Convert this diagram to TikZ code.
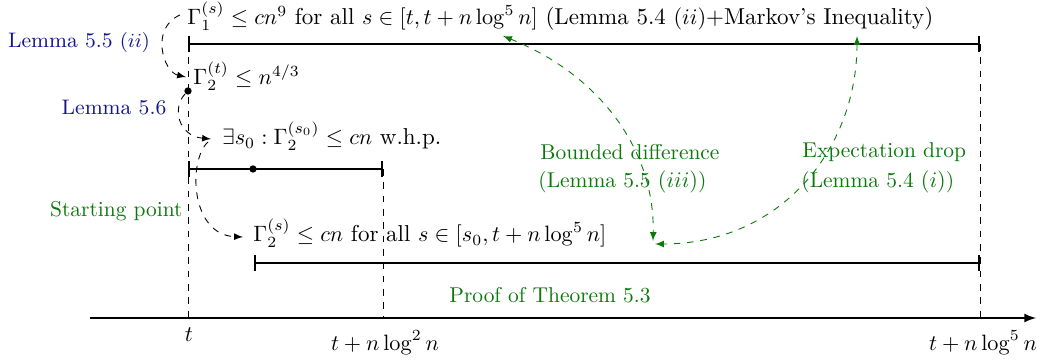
\documentclass[tikz,border=0pt]{standalone}
\usetikzlibrary{arrows}
\definecolor{lemblue}{RGB}{20,20,140}
\definecolor{lemgreen}{RGB}{10,120,10}
\begin{document}
\begin{tikzpicture}[x=0.45pt,y=0.45pt,
  txt/.style={inner sep=0pt, anchor=base west, font=\fontsize{10.35}{12}\selectfont},
  bluelab/.style={inner sep=0pt, text=lemblue, font=\fontsize{9.45}{11}\selectfont},
  greenlab/.style={inner sep=0pt, text=lemgreen, font=\fontsize{9.65}{11}\selectfont},
  axlab/.style={inner sep=0pt},
  bar/.style={thick, |-|},
  guide/.style={dashed, thin},
  blackarr/.style={dashed, thin, -latex},
  greenarr/.style={dashed, thin, lemgreen, latex-latex},
  dot/.style={circle, fill=black, inner sep=0pt, minimum size=3.3pt}]
\useasboundingbox (0,0) rectangle (1043,-360);
% axis
\coordinate (ax0) at (90,-318);
\coordinate (ax1) at (1036,-318);
\draw[thick,-latex] (ax0) -- (ax1);
% guide coordinates
\coordinate (gT) at (188,-44);
\coordinate (gTb) at (188,-318);
\coordinate (gM) at (383,-169);
\coordinate (gMb) at (383,-318);
\coordinate (gR) at (980,-44);
\coordinate (gRb) at (980,-318);
\draw[guide] (gT) -- (gTb);
\draw[guide] (gM) -- (gMb);
\draw[guide] (gR) -- (gRb);
% bars
\coordinate (b1l) at (188,-44);
\coordinate (b1r) at (980,-44);
\draw[bar] (b1l) -- (b1r);
\coordinate (b2l) at (188,-169);
\coordinate (b2r) at (383,-169);
\draw[bar] (b2l) -- (b2r);
\coordinate (b3l) at (254,-263);
\coordinate (b3r) at (980,-263);
\draw[bar] (b3l) -- (b3r);
% dots
\node[dot] (d1) at (188,-91) {};
\node[dot] (d2) at (253,-169) {};
% texts
\node[txt] (top) at (187,-25) {$\Gamma_1^{(s)} \leq cn^9$ for all $s \in [t, t+n\log^5 n]$ (Lemma 5.4 $(ii)$+Markov's Inequality)};
\node[txt] (g2t) at (193,-85) {$\Gamma_2^{(t)} \leq n^{4/3}$};
\node[txt] (ex) at (222,-145) {$\exists s_0 : \Gamma_2^{(s_0)} \leq cn$ w.h.p.};
\node[txt] (g2s) at (253,-242) {$\Gamma_2^{(s)} \leq cn$ for all $s \in [s_0, t+n\log^5 n]$};
\node[bluelab] (l55) at (79,-43) {Lemma 5.5 $(ii)$};
\node[bluelab] (l56) at (114,-108) {Lemma 5.6};
\node[greenlab, anchor=east] (sp) at (183,-211) {Starting point};
\node[greenlab, anchor=west] (bd1) at (540,-152) {Bounded difference};
\node[greenlab, anchor=west] (bd2) at (538,-182) {(Lemma 5.5 $(iii)$)};
\node[greenlab, anchor=west] (ed1) at (802,-152) {Expectation drop};
\node[greenlab, anchor=west] (ed2) at (801,-182) {(Lemma 5.4 $(i)$)};
\node[greenlab] (pf) at (550,-295) {Proof of Theorem 5.3};
\node[axlab] (lt) at (189,-335) {$t$};
\node[axlab] (lt2) at (385,-343) {$t+n\log^2 n$};
\node[axlab] (lt5) at (983,-343) {$t+n\log^5 n$};
% black dashed arrows
\coordinate (c1s) at (180,-15);
\coordinate (c1e) at (186,-77);
\draw[blackarr] (c1s) .. controls (150,-28) and (163,-72) .. (c1e);
\coordinate (c2s) at (185,-94);
\coordinate (c2e) at (211,-139);
\draw[blackarr] (c2s) .. controls (172,-108) and (178,-136) .. (c2e);
\coordinate (c3s) at (208,-142);
\coordinate (c3e) at (243,-237);
\draw[blackarr] (c3s) .. controls (188,-160) and (190,-235) .. (c3e);
% green dashed arrows
\coordinate (gA) at (503,-36);
\coordinate (gB) at (857,-36);
\coordinate (gC) at (653,-241);
\coordinate (gD) at (655,-244);
\draw[greenarr] (gA) .. controls (600,-75) and (655,-150) .. (gC);
\draw[greenarr] (gB) .. controls (857,-150) and (780,-244) .. (gD);
\end{tikzpicture}
\end{document}
